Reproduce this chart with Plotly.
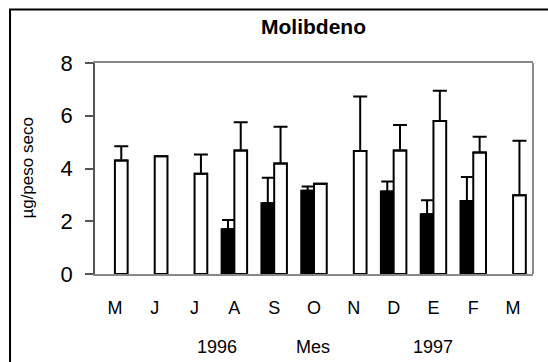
import plotly.graph_objects as go

months = ["M", "J", "J", "A", "S", "O", "N", "D", "E", "F", "M"]
positions = list(range(len(months)))

black_vals = [None, None, None, 1.70, 2.68, 3.16, None, 3.13, 2.27, 2.77, None]
black_err = [0, 0, 0, 0.35, 0.97, 0.16, 0, 0.38, 0.53, 0.91, 0]
white_vals = [4.30, 4.46, 3.80, 4.68, 4.19, 3.42, 4.66, 4.68, 5.80, 4.61, 2.99]
white_err = [0.54, 0.0, 0.73, 1.07, 1.39, 0.0, 2.07, 0.97, 1.15, 0.59, 2.06]

y_ticks = [0, 2, 4, 6, 8]
year_labels = ["1996", "Mes", "1997"]
year_pos = [2.56, 4.97, 7.99]

FONT = "Liberation Sans, Arial, sans-serif"

fig = go.Figure()
fig.add_trace(go.Bar(
    x=positions, y=black_vals, marker=dict(color="black", line=dict(color="black", width=2)),
    error_y=dict(type="data", array=black_err, symmetric=False, arrayminus=[0]*len(black_err),
                 color="black", thickness=2, width=6),
    showlegend=False, hoverinfo="skip",
))
fig.add_trace(go.Bar(
    x=positions, y=white_vals, marker=dict(color="white", line=dict(color="black", width=2)),
    error_y=dict(type="data", array=white_err, symmetric=False, arrayminus=[0]*len(white_err),
                 color="black", thickness=2, width=7),
    showlegend=False, hoverinfo="skip",
))

annotations = [
    dict(text="<b>Molibdeno</b>", xref="paper", yref="paper", x=0.498, y=1.171,
         xanchor="center", yanchor="middle",
         showarrow=False, font=dict(size=21, color="black", family=FONT)),
    dict(text="µg/peso seco", xref="paper", yref="paper", x=-0.155, y=0.5, textangle=-90,
         xanchor="center", yanchor="middle",
         showarrow=False, font=dict(size=17, color="black", family=FONT)),
]
for lab, xp in zip(year_labels, year_pos):
    annotations.append(dict(text=lab, xref="x", yref="paper", x=xp, y=-0.346, showarrow=False,
                            xanchor="center", yanchor="middle",
                            font=dict(size=18, color="black", family=FONT)))

fig.update_layout(
    width=548, height=362,
    margin=dict(l=95, r=15, t=63, b=88),
    paper_bgcolor="white", plot_bgcolor="white",
    barmode="group", bargap=0.36, bargroupgap=0,
    font=dict(family=FONT, color="black"),
    annotations=annotations,
    shapes=[
        dict(type="line", xref="paper", yref="paper", x0=1, x1=1, y0=0, y1=1,
             line=dict(color="#888888", width=2)),
        dict(type="rect", xref="paper", yref="paper", x0=-0.194, x1=1.06, y0=-0.45, y1=1.2536,
             line=dict(color="black", width=2), fillcolor="rgba(0,0,0,0)", layer="below"),
    ],
)
fig.update_xaxes(
    range=[-0.5, 10.5], tickvals=positions, ticktext=months, showgrid=False, zeroline=False,
    showline=True, linecolor="#888888", linewidth=2, mirror=True, ticks="",
    tickfont=dict(size=18, color="black", family=FONT), ticklabelstandoff=16,
)
fig.update_yaxes(
    range=[0, 8], tickvals=y_ticks, showgrid=False, zeroline=False,
    showline=True, linecolor="#555555", linewidth=1.5, ticks="outside", ticklen=8,
    tickcolor="#555555", tickwidth=1.5,
    tickfont=dict(size=22, color="black", family=FONT), ticklabelstandoff=8,
)

fig.write_html(
    "out.html",
    config={"displayModeBar": False},
    post_script="document.body.style.margin='0';document.body.style.overflow='hidden';",
)
